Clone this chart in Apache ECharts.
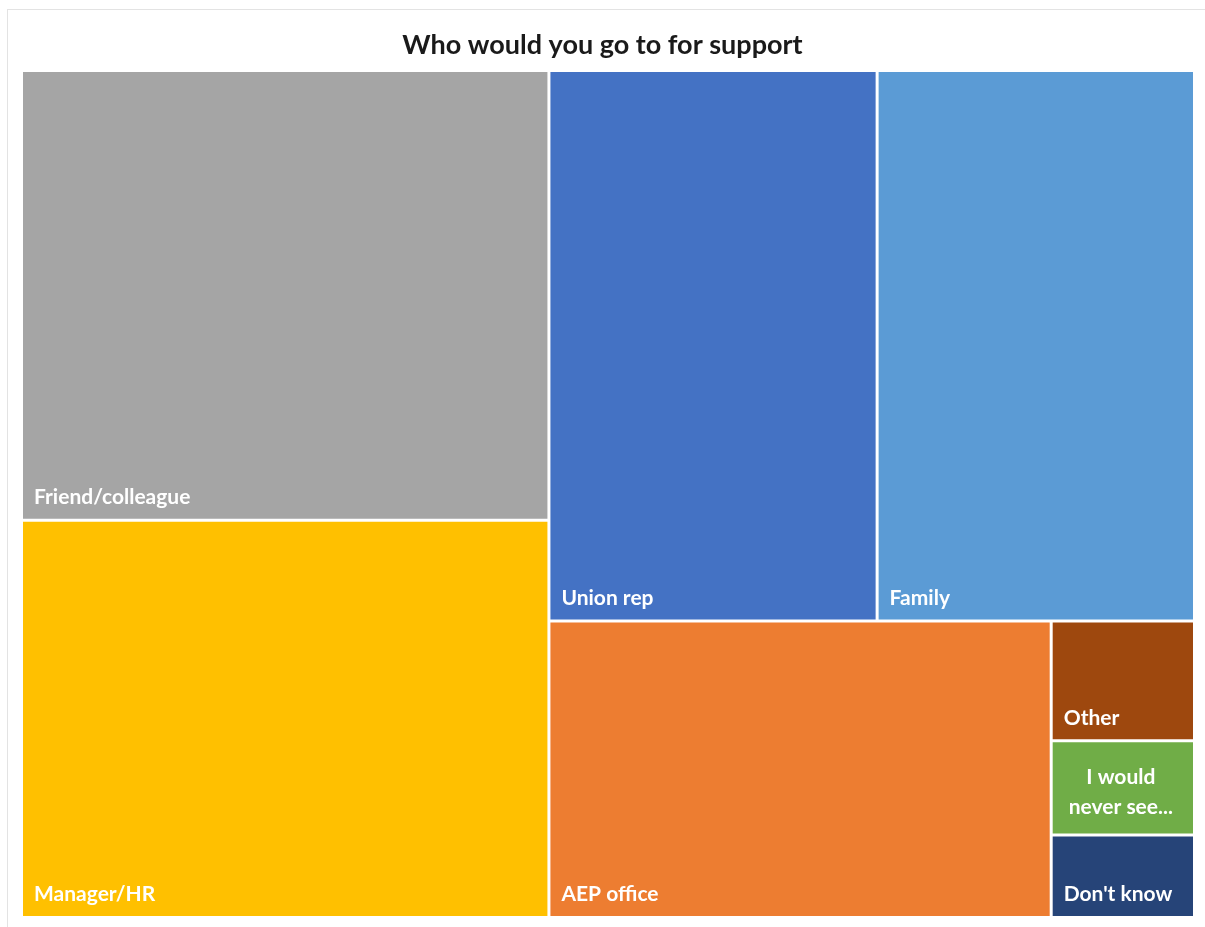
<!DOCTYPE html>
<html>
<head>
<meta charset="utf-8">
<script src="https://cdn.jsdelivr.net/npm/echarts@6/dist/echarts.min.js"></script>
<style>
  html, body { margin: 0; padding: 0; background: #fff; }
  #frame { position: absolute; left: 7px; top: 9px; width: 1205px; height: 930px; border-left: 1px solid #e3e3e3; border-top: 1px solid #e3e3e3; box-sizing: border-box; }
  #chart { position: absolute; left: 0; top: 0; width: 1205px; height: 927px; }
</style>
</head>
<body>
<div id="frame"></div>
<div id="chart"></div>
<script>
// Survey responses (% of respondents): who they would go to for support
const categories = ['Friend/colleague', 'Manager/HR', 'Union rep', 'Family', 'AEP office', 'Other', 'I would never see...', "Don't know"];
const responses = [23.9, 21.1, 18.2, 17.6, 15.0, 1.73, 1.36, 1.19];
const colors = ['#A5A5A5', '#FFC000', '#4472C4', '#5B9BD5', '#ED7D31', '#9E480E', '#70AD47', '#264478'];

const data = categories.map((name, i) => {
  const item = { name: name, value: responses[i], itemStyle: { color: colors[i] } };
  if (name === 'I would never see...') {
    item.label = { position: 'inside', align: 'center', formatter: 'I would\nnever see...', lineHeight: 30, offset: [-2, 4] };
  }
  return item;
});

const chart = echarts.init(document.getElementById('chart'), null, { renderer: 'canvas' });
chart.setOption({
  animation: false,
  title: {
    text: 'Who would you go to for support',
    left: 'center',
    top: 27,
    textStyle: { fontFamily: 'Lato', fontWeight: 'bold', fontSize: 27, color: '#1a1a1a' }
  },
  series: [{
    type: 'treemap',
    left: 23,
    top: 72,
    width: 1170,
    height: 844,
    roam: false,
    nodeClick: false,
    squareRatio: 1,
    sort: 'desc',
    breadcrumb: { show: false },
    levels: [{ itemStyle: { borderWidth: 0, gapWidth: 3, borderColor: '#fff' } }],
    itemStyle: { borderWidth: 0 },
    label: {
      show: true,
      position: 'insideBottomLeft',
      distance: 6,
      color: '#fff',
      fontFamily: 'Lato',
      fontWeight: 'bold',
      fontSize: 21,
      formatter: '{b}'
    },
    data: data
  }]
});
</script>
</body>
</html>
